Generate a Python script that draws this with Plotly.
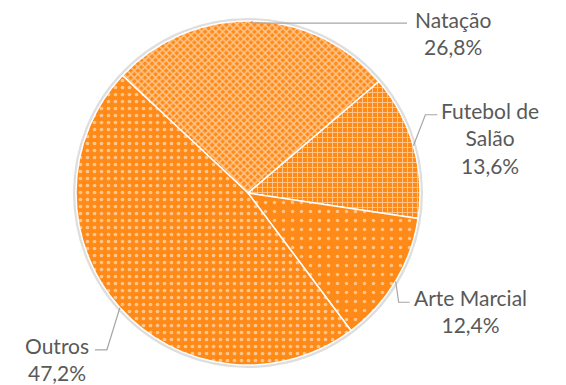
import math
import plotly.graph_objects as go

# Distribuição por modalidade
categorias = ["Natação", "Futebol de Salão", "Arte Marcial", "Outros"]
rotulos = ["Natação", "Futebol de<br>Salão", "Arte Marcial", "Outros"]
percentuais = [26.8, 13.6, 12.4, 47.2]

W, H = 566, 385
CX, CY, R = 248, 193, 172          # pie centre and radius in pixels
ROT = -46.9                         # start angle of first slice (clockwise from 12 o'clock)

LARANJA = "#FF8A17"
TEXTO = "#595959"
LINHA = "#A6A6A6"


def px(x):
    return x / W


def py(y):
    return 1 - y / H


def borda(frac_meio, r=R):
    ang = math.radians(ROT + 360 * frac_meio)
    return CX + r * math.sin(ang), CY - r * math.cos(ang)


fig = go.Figure()
fig.add_trace(go.Pie(
    labels=categorias,
    values=percentuais,
    sort=False,
    direction="clockwise",
    rotation=ROT,
    textinfo="none",
    hoverinfo="label+percent",
    domain=dict(x=[px(CX - R), px(CX + R)], y=[py(CY + R), py(CY - R)]),
    marker=dict(
        colors=[LARANJA] * 4,
        line=dict(color="white", width=1.5),
        pattern=dict(
            shape=["x", "+", ".", "."],
            fgcolor="white",
            size=[5, 5, 9, 7],
            solidity=[0.5, 0.35, 0.12, 0.22],
            fillmode="overlay",
        ),
    ),
    showlegend=False,
))

# soft halo around the pie
fig.add_shape(type="circle", xref="paper", yref="paper", layer="below",
              x0=px(CX - R - 1.5), x1=px(CX + R + 1.5),
              y0=py(CY + R + 1.5), y1=py(CY - R - 1.5),
              line=dict(color="rgba(0,0,0,0.13)", width=3),
              fillcolor="rgba(0,0,0,0)")

# mid-angle fraction of every slice
total = sum(percentuais)
acum = 0.0
meios = []
for v in percentuais:
    meios.append((acum + v / 2) / total)
    acum += v

# leader-line elbows (pixel offsets from the slice edge) and label anchors
cotovelos = [
    [(0, 2), (155, 2)],           # Natação: horizontal to the right
    [(12, -31), (24, -31)],       # Futebol de Salão: up then right
    [(3, 21), (14, 21)],          # Arte Marcial: down then right
    [(-13, 42), (-25, 42)],       # Outros: down then left
]
ancoras = [
    (453, 33),
    (490, 138),
    (470, 311),
    (57, 359),
]

for i, m in enumerate(meios):
    x0, y0 = borda(m)
    pts = [(x0, y0)] + [(x0 + dx, y0 + dy) for dx, dy in cotovelos[i]]
    caminho = "M " + " L ".join(f"{px(x)},{py(y)}" for x, y in pts)
    fig.add_shape(type="path", xref="paper", yref="paper", path=caminho,
                  line=dict(color=LINHA, width=1.2))
    ax, ay = ancoras[i]
    texto = f"{rotulos[i]}<br>{percentuais[i]:.1f}%".replace(".", ",")
    fig.add_annotation(x=px(ax), y=py(ay), xref="paper", yref="paper",
                       text=texto, showarrow=False, align="center",
                       xanchor="center", yanchor="middle",
                       font=dict(family="Lato", size=21, color=TEXTO))

fig.update_layout(
    width=W, height=H,
    margin=dict(l=0, r=0, t=0, b=0),
    paper_bgcolor="white",
    plot_bgcolor="white",
)

fig.write_html("out.html")
